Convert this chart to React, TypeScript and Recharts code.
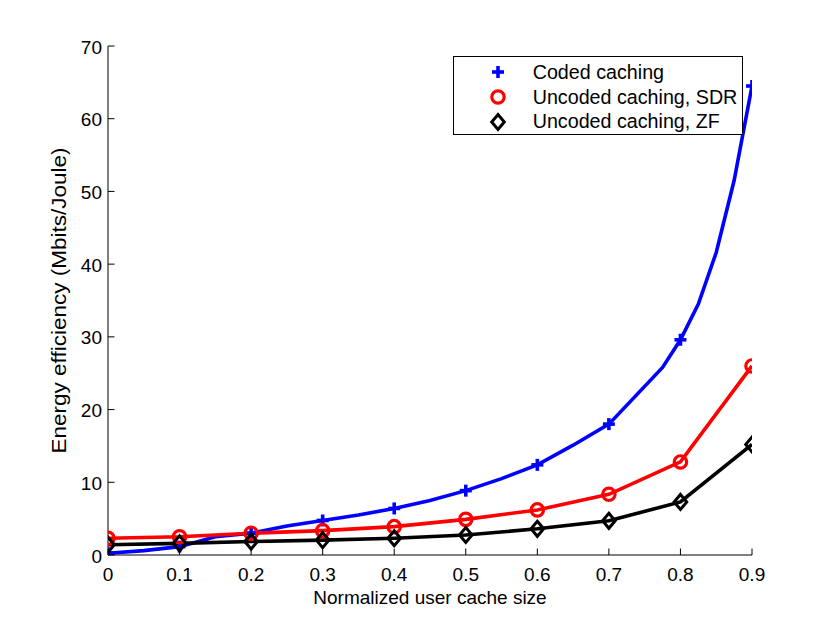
import React from 'react';
import { LineChart, Line, XAxis, YAxis, Legend } from 'recharts';

const xTicks = [0, 0.1, 0.2, 0.3, 0.4, 0.5, 0.6, 0.7, 0.8, 0.9];
const yTicks = [0, 10, 20, 30, 40, 50, 60, 70];

const codedX = [0, 0.05, 0.1, 0.15, 0.2, 0.25, 0.3, 0.35, 0.4, 0.45, 0.5, 0.55, 0.6, 0.65, 0.7, 0.775, 0.8, 0.825, 0.85, 0.875, 0.9];
const codedY = [0.25, 0.6, 1.15, 2.5, 3.0, 4.0, 4.75, 5.5, 6.4, 7.5, 8.85, 10.5, 12.4, 15.1, 18.0, 25.8, 29.6, 34.5, 41.6, 51.5, 64.5];

const cacheSizes = [0, 0.1, 0.2, 0.3, 0.4, 0.5, 0.6, 0.7, 0.8, 0.9];
const sdrValues = [2.3, 2.5, 3.0, 3.35, 3.9, 4.9, 6.2, 8.35, 12.8, 26.0];
const zfValues = [1.4, 1.6, 1.85, 2.05, 2.3, 2.75, 3.6, 4.7, 7.3, 15.2];

const seriesNames = ['Coded caching', 'Uncoded caching, SDR', 'Uncoded caching, ZF'];
const xLabel = 'Normalized user cache size';
const yLabel = 'Energy efficiency (Mbits/Joule)';

const codedData = codedX.map((x, i) => ({ x, y: codedY[i] }));
const sdrData = cacheSizes.map((x, i) => ({ x, y: sdrValues[i] }));
const zfData = cacheSizes.map((x, i) => ({ x, y: zfValues[i] }));

const FONT = '"Liberation Sans", Arial, Helvetica, sans-serif';
const TICK = 6.5;
const BLUE = '#0000ff';
const RED = '#ff0000';
const BLACK = '#000000';
const LW = 3.6;

const isMarked = (x: number) => xTicks.some((t) => Math.abs(t - x) < 1e-9);

const PlusShape = ({ cx, cy }: { cx: number; cy: number }) => (
  <g>
    <line x1={cx - 6} y1={cy} x2={cx + 6} y2={cy} stroke={BLUE} strokeWidth={3.6} />
    <line x1={cx} y1={cy - 6} x2={cx} y2={cy + 6} stroke={BLUE} strokeWidth={3.6} />
  </g>
);
const CircleShape = ({ cx, cy }: { cx: number; cy: number }) => (
  <circle cx={cx} cy={cy} r={6.2} fill="none" stroke={RED} strokeWidth={3.2} />
);
const DiamondShape = ({ cx, cy }: { cx: number; cy: number }) => (
  <polygon
    points={`${cx},${cy - 7.5} ${cx + 6.3},${cy} ${cx},${cy + 7.5} ${cx - 6.3},${cy}`}
    fill="none"
    stroke={BLACK}
    strokeWidth={3}
    strokeLinejoin="miter"
  />
);

const codedDot = (p: any) =>
  isMarked(p.payload.x) ? <PlusShape key={`c${p.index}`} cx={p.cx} cy={p.cy} /> : <g key={`c${p.index}`} />;
const sdrDot = (p: any) => <CircleShape key={`s${p.index}`} cx={p.cx} cy={p.cy} />;
const zfDot = (p: any) => <DiamondShape key={`z${p.index}`} cx={p.cx} cy={p.cy} />;

const BottomTick = (p: any) => (
  <g>
    <line x1={p.x} y1={p.y} x2={p.x} y2={p.y - TICK} stroke="#000" strokeWidth={1} />
    <text x={p.x} y={p.y + 26} textAnchor="middle" fontSize={19} fontFamily={FONT} fill="#000">
      {String(p.payload.value)}
    </text>
  </g>
);
const TopTick = (p: any) => (
  <line x1={p.x} y1={p.y} x2={p.x} y2={p.y + TICK} stroke="#000" strokeWidth={1} />
);
const LeftTick = (p: any) => (
  <g>
    <line x1={p.x} y1={p.y} x2={p.x + TICK} y2={p.y} stroke="#000" strokeWidth={1} />
    <text x={p.x - 6} y={p.y + 7.5} textAnchor="end" fontSize={19} fontFamily={FONT} fill="#000">
      {String(p.payload.value)}
    </text>
  </g>
);
const RightTick = (p: any) => (
  <line x1={p.x} y1={p.y} x2={p.x - TICK} y2={p.y} stroke="#000" strokeWidth={1} />
);

const YLabelContent = (p: any) => {
  const vb = p.viewBox || { y: 46, height: 509 };
  const cy = vb.y + vb.height / 2;
  const x0 = 66;
  return (
    <text
      x={x0}
      y={cy}
      transform={`rotate(-90 ${x0} ${cy})`}
      textAnchor="middle"
      fontSize={19.5}
      fontFamily={FONT}
      fill="#000"
      textLength={306}
      lengthAdjust="spacingAndGlyphs"
    >
      {yLabel}
    </text>
  );
};

const legendMarkers = [
  <svg width={20} height={20} key="m0"><PlusShape cx={10} cy={10} /></svg>,
  <svg width={20} height={20} key="m1"><CircleShape cx={10} cy={10} /></svg>,
  <svg width={20} height={20} key="m2"><DiamondShape cx={10} cy={10} /></svg>,
];

const LegendBox = () => (
  <div
    style={{
      position: 'relative',
      width: 290,
      height: 79,
      boxSizing: 'border-box',
      border: '1px solid #000',
      background: '#fff',
      fontFamily: FONT,
      fontSize: 19.7,
      color: '#000',
    }}
  >
    {seriesNames.map((name, i) => (
      <div key={name} style={{ position: 'absolute', left: 0, top: 3 + i * 24.7, height: 24.7, width: 288 }}>
        <div style={{ position: 'absolute', left: 33.7, top: 2.35 }}>{legendMarkers[i]}</div>
        <div style={{ position: 'absolute', left: 78.7, top: 0, lineHeight: '24.7px', whiteSpace: 'nowrap' }}>{name}</div>
      </div>
    ))}
  </div>
);

export default function App() {
  return (
    <div style={{ position: 'absolute', left: 0, top: 0, width: 830, height: 624, background: '#fff' }}>
      <LineChart width={830} height={624} margin={{ top: 46, right: 78, bottom: 0, left: 0 }}>
        <XAxis
          dataKey="x"
          type="number"
          domain={[0, 0.9]}
          ticks={xTicks}
          interval={0}
          height={69}
          tickSize={0}
          tickMargin={0}
          tickLine={false}
          tick={<BottomTick />}
          axisLine={{ stroke: '#000', strokeWidth: 1 }}
          allowDataOverflow
        />
        <XAxis
          xAxisId="top"
          orientation="top"
          dataKey="x"
          type="number"
          domain={[0, 0.9]}
          ticks={xTicks}
          interval={0}
          height={0}
          tickSize={0}
          tickMargin={0}
          tickLine={false}
          tick={<TopTick />}
          axisLine={{ stroke: '#000', strokeWidth: 1 }}
          allowDataOverflow
        />
        <YAxis
          type="number"
          domain={[0, 70]}
          ticks={yTicks}
          interval={0}
          width={108}
          tickSize={0}
          tickMargin={0}
          tickLine={false}
          tick={<LeftTick />}
          axisLine={{ stroke: '#000', strokeWidth: 1 }}
          allowDataOverflow
          label={{ value: yLabel, content: <YLabelContent /> }}
        />
        <YAxis
          yAxisId="right"
          orientation="right"
          type="number"
          domain={[0, 70]}
          ticks={yTicks}
          interval={0}
          width={0}
          tickSize={0}
          tickMargin={0}
          tickLine={false}
          tick={<RightTick />}
          axisLine={{ stroke: '#000', strokeWidth: 1 }}
          allowDataOverflow
        />
        <Legend
          layout="horizontal"
          verticalAlign="middle"
          align="center"
          content={<LegendBox />}
          wrapperStyle={{ left: 453, top: 56, width: 290, height: 79 }}
        />
        <Line
          data={codedData}
          dataKey="y"
          name={seriesNames[0]}
          stroke={BLUE}
          strokeWidth={LW}
          type="linear"
          dot={codedDot}
          activeDot={false}
          isAnimationActive={false}
        />
        <Line
          data={sdrData}
          dataKey="y"
          name={seriesNames[1]}
          stroke={RED}
          strokeWidth={LW}
          type="linear"
          dot={sdrDot}
          activeDot={false}
          isAnimationActive={false}
        />
        <Line
          data={zfData}
          dataKey="y"
          name={seriesNames[2]}
          stroke={BLACK}
          strokeWidth={LW}
          type="linear"
          dot={zfDot}
          activeDot={false}
          isAnimationActive={false}
        />
      </LineChart>
      <div
        style={{
          position: 'absolute',
          left: 108,
          width: 644,
          top: 586,
          textAlign: 'center',
          fontFamily: FONT,
          fontSize: 19,
          lineHeight: '24px',
          color: '#000',
        }}
      >
        {xLabel}
      </div>
    </div>
  );
}
